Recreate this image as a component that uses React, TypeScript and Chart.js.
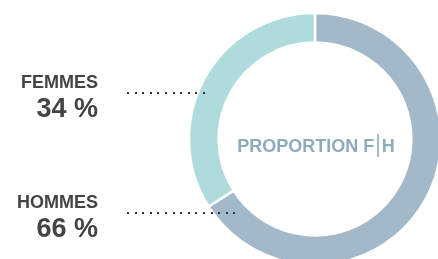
import React, { useEffect, useRef } from "react";
import { Chart, registerables } from "chart.js";

Chart.register(...registerables);

// ---- data ----
const categories = ["HOMMES", "FEMMES"];
const shares = [66, 34];
const shareLabels = ["66 %", "34 %"];
const sliceColors = ["#a3b8c9", "#aedbdb"];
const centerTitle = ["PROPORTION F", "H"];

// ---- styling constants ----
const LABEL_COLOR = "#444444";
const CENTER_COLOR = "#8eaabd";
const FONT = "'Liberation Sans', Arial, sans-serif";

// label layout per category
const labelLayout = [
  { nameY: 208, valueY: 237, dotY: 212.5, dotEnd: 236 },
  { nameY: 88, valueY: 117, dotY: 92.5, dotEnd: 208 },
];
const LABEL_RIGHT = 98;
const DOT_START = 127;

const labelsPlugin = {
  id: "fhLabels",
  afterDraw(chart: any) {
    const ctx = chart.ctx as CanvasRenderingContext2D;
    ctx.save();
    categories.forEach((name, i) => {
      const l = labelLayout[i];
      ctx.fillStyle = LABEL_COLOR;
      ctx.textAlign = "right";
      ctx.textBaseline = "alphabetic";
      ctx.font = `bold 18px ${FONT}`;
      ctx.fillText(name, LABEL_RIGHT, l.nameY);
      ctx.font = `bold 27px ${FONT}`;
      ctx.fillText(shareLabels[i], LABEL_RIGHT, l.valueY);
      // dotted leader
      ctx.fillStyle = "#333333";
      for (let x = DOT_START; x <= l.dotEnd; x += 7.6) {
        ctx.fillRect(Math.round(x), Math.round(l.dotY - 1), 2, 2);
      }
    });
    // center title
    const meta = chart.getDatasetMeta(0);
    const arc = meta.data[0];
    const cx = arc.x;
    const cy = arc.y;
    ctx.font = `bold 18px ${FONT}`;
    ctx.fillStyle = CENTER_COLOR;
    ctx.textAlign = "left";
    const w1 = ctx.measureText(centerTitle[0]).width;
    const w2 = ctx.measureText(centerTitle[1]).width;
    const gap = 3;
    const barW = 1.6;
    const total = w1 + gap + barW + gap + w2;
    const x0 = cx - total / 2 + 1;
    const base = cy + 13;
    ctx.fillText(centerTitle[0], x0, base);
    ctx.fillRect(x0 + w1 + gap, cy - 5, barW, 23);
    ctx.fillText(centerTitle[1], x0 + w1 + gap + barW + gap, base);
    ctx.restore();
  },
};

export default function App() {
  const ref = useRef<HTMLCanvasElement | null>(null);
  useEffect(() => {
    if (!ref.current) return;
    const chart = new Chart(ref.current, {
      type: "doughnut",
      data: {
        labels: categories,
        datasets: [
          {
            data: shares,
            backgroundColor: sliceColors,
            borderColor: "#ffffff",
            borderWidth: 2.5,
            hoverOffset: 0,
          },
        ],
      },
      options: {
        animation: false,
        responsive: false,
        devicePixelRatio: 1,
        cutout: "76.5%",
        radius: 126,
        layout: { padding: { left: 190, top: 14, right: 10, bottom: 6 } },
        plugins: {
          legend: { display: false },
          tooltip: { enabled: false },
          title: { display: false },
        },
      },
      plugins: [labelsPlugin],
    });
    return () => chart.destroy();
  }, []);
  return (
    <div
      style={{
        position: "fixed",
        left: 0,
        top: 0,
        width: 438,
        height: 259,
        overflow: "hidden",
        background: "#ffffff",
      }}
    >
      <canvas
        ref={ref}
        width={450}
        height={270}
        style={{ width: 450, height: 270, display: "block" }}
      />
    </div>
  );
}
